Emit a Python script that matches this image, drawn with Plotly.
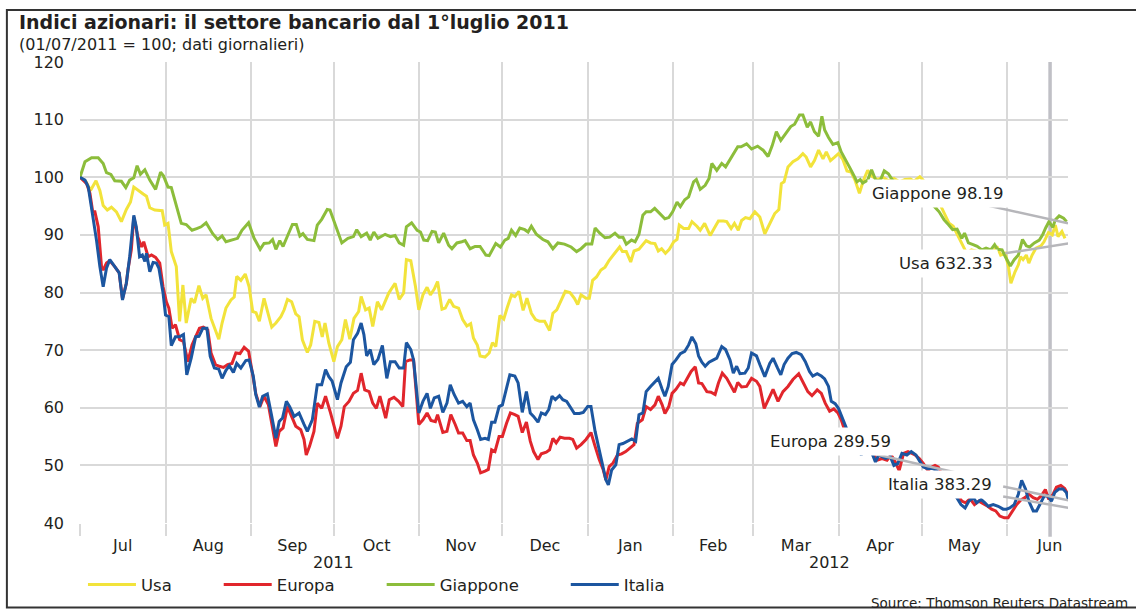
import pandas as pd
import plotly.graph_objects as go

START = pd.Timestamp("2011-07-01")
FONT = "DejaVu Sans"
TEXT = "#231f20"
GRID = "#d9d9d9"
PAD = "\u00a0" * 8  # keeps the wide spacing between legend entries

# (days since 01/07/2011, index level)
usa = [
    (0, 100), (2.2, 99.2), (3.8, 97.7), (5.8, 99.4), (7.2, 97.7), (8.4, 95.1), (9.9, 94.3), (11.4, 94.8),
    (13.2, 94), (15, 92.3), (16.8, 94.4), (18.3, 95.7), (19.5, 98.3), (21, 97.7), (22.9, 97.1), (24.1, 96.7),
    (25.3, 94.7), (27.1, 94.3), (28.6, 94.2), (29.8, 94.2), (30.7, 91.7), (31.9, 92), (33.1, 87.1), (34.3, 85.6),
    (34.9, 84.5), (36.1, 75), (37.3, 81.3), (38.5, 74.7), (40.3, 79), (41.5, 78.2), (43.1, 81.2), (44.5, 79),
    (45.7, 79.6), (47.5, 75.5), (48.7, 73.8), (50.3, 71.9), (51.5, 74.7), (52.9, 77.3), (54.7, 78.7), (55.9, 79.2),
    (56.8, 82.8), (58.3, 82.1), (59.9, 83.2), (61.3, 81), (62.6, 76.7), (63.8, 76.5), (65, 75), (66.7, 79),
    (68.3, 76.1), (69.5, 74), (71, 74.7), (72.8, 75.8), (74, 77), (75.2, 78.8), (76.7, 78.4), (78.2, 76.3),
    (79.4, 75.8), (80.6, 71.8), (82.4, 69.6), (83.6, 70.9), (85.1, 75), (86.6, 74.8), (87.8, 72.3), (88.8, 74.7),
    (90.2, 71.2), (92, 68), (93.3, 70.6), (94.9, 71.8), (96.2, 75.3), (97.8, 71.9), (99.3, 75.5), (101, 76.7),
    (101.9, 79.3), (103.5, 77), (104.8, 77.3), (106.1, 74.1), (107.8, 78.4), (109.3, 77), (111.9, 79.9),
    (114.2, 81.6), (115.7, 78.8), (117.3, 79.9), (118.3, 85.7), (119.9, 85.5), (121.6, 81), (122.8, 77),
    (124.3, 79.6), (125.8, 80.9), (127, 79.6), (128.4, 80.6), (129.6, 81.9), (131.2, 77.1), (132.4, 77.3),
    (134, 78.8), (135.4, 77.6), (137.2, 77.3), (138.7, 75.3), (140.2, 74.2), (141.6, 74.6), (142.6, 72.1),
    (144, 70.9), (145, 69), (146.8, 68.8), (148.3, 69.5), (149.5, 71.3), (150.7, 70.6), (152.2, 76), (153.6, 75.4),
    (154.8, 77.3), (156.4, 79.6), (157.6, 79.3), (159.1, 80.2), (160.6, 76.9), (162, 79), (163.6, 76.4),
    (165.1, 75.3), (166.6, 75), (168.4, 75), (170.2, 73.4), (171.4, 76.4), (172.8, 77), (174.4, 78.8),
    (175.9, 80.2), (177.6, 80), (179.2, 79), (180.4, 77.9), (181.6, 79.6), (183.4, 79), (184.6, 79),
    (185.8, 82.1), (187.2, 82.7), (188.8, 83.9), (190.3, 84.4), (191.8, 85.6), (193.2, 86.5), (194.4, 87.3),
    (195.6, 87.9), (196.6, 87.1), (198, 87.1), (199.6, 85.3), (200.8, 87.2), (202.6, 87.5), (203.8, 88.2),
    (205.2, 89), (206.8, 88.6), (208.4, 88.5), (209.6, 87.2), (210.8, 87.6), (212.2, 86.8), (213.6, 87.5),
    (215.2, 88.8), (216.4, 89.2), (217.2, 91.7), (218.8, 91.1), (220.6, 91.1), (221.8, 92.3), (223.6, 91.5),
    (224.8, 90.8), (226.4, 92), (228.4, 89.9), (230.2, 91.4), (231.4, 92.4), (233.2, 92.4), (234.4, 92.3),
    (236, 91.1), (237.2, 92), (238.6, 90.8), (239.8, 92.5), (241.2, 93), (242.8, 92.8), (244.6, 94),
    (246.4, 93.1), (248.2, 90.2), (250, 92), (251.8, 93.7), (253.3, 94.4), (254.2, 98.9), (255.2, 99.2),
    (256.6, 101.8), (258.4, 102.7), (260.2, 103.2), (262, 104.1), (263.2, 103.5), (264.8, 101.8), (266.2, 102.9),
    (267.7, 104.7), (269.3, 103.2), (270.5, 104.4), (272, 102.9), (273.5, 103.5), (274.9, 104.1), (276.5, 103.1),
    (278, 101.1), (279.5, 100.9), (280.9, 99.5), (282.5, 97.2), (284, 99.5), (285.5, 101.2), (287, 100.2),
    (289, 99.6), (291, 100), (293, 99.4), (295, 99.8), (297, 99.2), (299, 99.6), (301, 99.7), (302.3, 99.3),
    (304.4, 100.1), (305.6, 99.5), (308, 97), (310.3, 94.9), (311.8, 95.2), (313.5, 93.5), (315, 92),
    (316.5, 91.5), (318, 90), (320.2, 88), (321.4, 86.8), (323.1, 87.4), (325.5, 87.1), (327.2, 86.5),
    (329, 87.4), (330.7, 86.8), (332.3, 88), (333.7, 86.5), (335.4, 86.8), (336.6, 84.2), (337.4, 81.6),
    (338.9, 83.6), (340.1, 84.8), (340.9, 86.2), (341.8, 85.7), (343, 86.5), (343.9, 85.1), (345.1, 86.5),
    (346.5, 87.7), (348.3, 88.1), (349.4, 88.8), (351, 90.4), (352.4, 90), (353.5, 91.7), (354.5, 89.7),
    (355.9, 90.6), (357, 89.4),
]

europa = [
    (0, 100), (2.4, 98.9), (3.6, 97.2), (4.6, 94), (5.4, 94), (6.6, 91.4), (7.8, 84.5), (8.4, 83.9), (9.6, 85.1),
    (10.8, 85.5), (12.6, 84.5), (14.2, 83.4), (15.4, 78.9), (16.8, 81.6), (17.4, 84), (18.6, 87.4), (19.5, 93.1),
    (21, 89.6), (22.3, 87.9), (23.1, 88.8), (24.7, 86.2), (25.9, 86.5), (27.4, 86.1), (28.9, 85.1), (30.1, 81),
    (31.3, 78.4), (32.2, 77.3), (33.4, 73.8), (34.6, 74.4), (36.1, 71.8), (37.5, 71.5), (39.1, 68), (40.6, 70.9),
    (42.1, 72.5), (43.3, 73.8), (44.7, 74), (46.3, 73.5), (47.5, 69.5), (49.1, 67.5), (50.5, 67.2), (52, 67),
    (53.5, 67.5), (55.1, 67.7), (56.5, 69.5), (58, 69.4), (59.5, 70.5), (61.1, 69.8), (62.5, 66), (63.7, 62.5),
    (65.2, 60.2), (66.7, 62), (68.3, 60.5), (69.5, 57.3), (71, 53.3), (72.2, 55.9), (73.6, 56.5), (75.2, 60.2),
    (76.7, 58.5), (78.2, 56.8), (80, 56.2), (81.2, 54.5), (82, 51.8), (83.2, 53.3), (84.8, 55.9), (86, 60.8),
    (87.6, 59.9), (89, 62), (90.8, 59.1), (93.3, 54.7), (94.6, 56.8), (95.8, 60.2), (97.5, 61.1), (99.1, 62.5),
    (100.6, 63), (101.9, 66), (103.2, 63.1), (104.8, 62.8), (106.1, 60.8), (107.4, 59.9), (108.7, 62),
    (110.8, 58.2), (112.1, 61.4), (113.8, 61.8), (115.5, 61.1), (117, 60.2), (118, 68), (119.6, 68.3),
    (120.9, 68.3), (122.8, 57.1), (124.3, 57.9), (125.8, 59.1), (127.2, 57.8), (128.8, 57.6), (129.6, 58.8),
    (131.5, 55.7), (133, 55.9), (134.4, 58.8), (136, 57.1), (137.2, 55.6), (138.7, 55.6), (140.2, 54.3),
    (141.4, 54.3), (142.6, 51.8), (144, 50.4), (145.2, 48.7), (146.8, 49), (148, 49.3), (149.2, 52.7),
    (150.4, 52.4), (151.9, 55), (153.1, 55), (154.6, 57.3), (156, 59.1), (157.6, 58.8), (158.8, 58.5),
    (160.3, 55.7), (161.8, 57.5), (163.2, 54.2), (164.4, 52.4), (166, 51), (167.2, 52), (169, 52.3),
    (170.2, 52.7), (171.4, 54.7), (172.6, 53.9), (174, 54.9), (175.6, 54.7), (177.4, 54.7), (178.6, 54.5),
    (180, 53), (181.6, 53.6), (183.4, 54.5), (185.2, 55.7), (186.7, 53.3), (188.2, 51), (189.6, 49.3),
    (190.6, 47.5), (191.8, 49.8), (193.2, 50.4), (194.8, 51.8), (196.3, 52), (197.8, 52.4), (199.2, 53),
    (200.8, 53.6), (202, 57.3), (203.8, 57.9), (205.2, 60.2), (206.8, 59.7), (208.4, 60.5), (209.6, 62),
    (211, 60.5), (212, 59), (213.4, 60.2), (214.6, 62.5), (216, 63.2), (217.6, 64.3), (218.8, 64), (220.3, 65.4),
    (221.5, 66.3), (223, 67.1), (224.2, 64.3), (225.4, 64.2), (227.2, 62.8), (228.7, 62.7), (230.2, 62.3),
    (231.4, 64.3), (232.8, 66), (234.4, 65.1), (236, 63.7), (237.2, 62.7), (238.4, 64.4), (239.8, 63.6),
    (241.6, 63.7), (243.4, 65.1), (245.2, 64.6), (246.4, 63.7), (248, 59.9), (249.4, 61.4), (251.2, 63.2),
    (253, 61.1), (254.8, 62.8), (256.6, 63.7), (258.4, 64.9), (260.5, 65.9), (262, 64.6), (263.8, 62.8),
    (265.3, 62.1), (267.2, 63.1), (268.7, 62.5), (270.1, 60.8), (271.7, 59.4), (273.2, 59.8), (274.7, 59.1),
    (275.9, 57.9), (277.1, 56.2), (278.3, 55.6), (279.5, 55), (282, 54), (284.5, 53), (287, 52.4), (288.9, 50.9),
    (290.7, 51.2), (292.5, 50.9), (294, 51.8), (295.5, 50.6), (296.9, 49.1), (298.5, 52.1), (300.1, 52.4),
    (301.3, 52.1), (302.7, 51.8), (304.2, 51.2), (305.7, 50.3), (307.3, 49.1), (308.7, 49.7), (309.9, 50),
    (311.1, 49.7), (313, 48), (315, 45.8), (316.8, 45), (318.4, 44.7), (319.6, 43.8), (321, 43.5), (322.6, 44.2),
    (324.2, 43.2), (325.8, 43.8), (327.4, 43.4), (329, 42.9), (330.4, 42.4), (331.9, 42.1), (333.4, 41.2),
    (335, 40.9), (336.4, 40.9), (337.9, 42.1), (339.5, 43.2), (341, 44), (342.5, 44.4), (343.9, 45),
    (345.5, 44.4), (347, 44.1), (348.4, 44.7), (349.9, 45.8), (351.1, 44.1), (352.7, 45), (353.9, 46.2),
    (355.5, 46.5), (356.9, 46), (358, 45),
]

giappone = [
    (0, 100), (1.8, 102.7), (4.2, 103.4), (6.6, 103.4), (8.4, 102.4), (9.6, 100.8), (11.2, 100.5), (12.6, 99.4),
    (15, 99.3), (16.6, 98.2), (18, 99.5), (19.5, 99.9), (20.7, 102), (21.9, 100.5), (23.5, 101.3), (25.3, 99.5),
    (27.4, 97.9), (29.2, 100.9), (30.3, 100.2), (31.9, 98.3), (33.1, 98.2), (34.9, 95.1), (36.7, 92), (38.5, 91.8),
    (40.6, 90.8), (42.3, 91.1), (43.9, 91.4), (45.7, 92.1), (48.1, 90.2), (49.9, 89.2), (51.5, 89.8), (52.9, 88.8),
    (55.3, 89.2), (57.1, 89.4), (58.7, 90.8), (61.1, 92.1), (63.1, 89.4), (65.3, 87.5), (66.7, 88.5), (68.6, 88.6),
    (69.8, 89.2), (71, 87.5), (72.4, 89), (73.6, 88), (75.2, 89.8), (77, 91.8), (78.4, 91.8), (79.7, 89.8),
    (80.8, 90.2), (82.4, 89.2), (84.8, 89), (86, 91.7), (87.6, 92.7), (89.6, 94.4), (90.6, 94.3), (92.6, 91.7),
    (94.9, 88.6), (97.1, 89.4), (99.1, 89.7), (100.3, 90.9), (101.9, 89.7), (103.9, 90.3), (105.2, 89.1),
    (106.5, 90.5), (108, 89.4), (110.6, 90.1), (112.5, 89.7), (114.2, 89.9), (115.7, 88.6), (117.3, 88.2),
    (118.3, 91.4), (120.2, 92.1), (122.2, 90.8), (123.4, 90.5), (124.6, 89.1), (126, 89), (127.6, 90.6),
    (128.8, 90.5), (130, 88.6), (131.8, 90.3), (133.6, 88.2), (134.8, 87.6), (136.6, 88.6), (138.4, 88.8),
    (139.6, 89), (141.4, 87.6), (143.2, 88), (145, 88), (147.1, 86.5), (148.3, 86.4), (150.7, 88.5), (152.4, 87.9),
    (154, 89.1), (155.2, 89.4), (156.4, 90.8), (157.9, 89.9), (159.4, 91.2), (161.2, 90.9), (162.4, 90.5),
    (163.6, 91.5), (165.4, 90.1), (167.8, 89.2), (169.6, 88.8), (171.4, 87.6), (173.2, 88.6), (175.6, 88.4),
    (178, 87.9), (180, 87.1), (181.6, 87.6), (183.4, 88.4), (185.5, 88.4), (186.7, 91.2), (188.4, 90.3),
    (190.3, 89.5), (192, 89.6), (193.9, 90.3), (195.4, 89.6), (196.8, 89.6), (198, 88.4), (199.9, 89.1),
    (201.2, 88.8), (202.6, 90.1), (204, 93.4), (205.2, 94), (206.8, 94), (208.3, 94.6), (210, 93.7), (212, 92.8),
    (213.4, 93), (214.8, 94), (216.4, 95.7), (217.6, 94.9), (219.2, 96.1), (220.6, 96.6), (222.4, 99.2),
    (223.4, 99.6), (224.8, 97.9), (226.6, 98.6), (228, 99.8), (229, 102.4), (230.8, 101.2), (232.6, 102.4),
    (234, 101.8), (236.2, 103.6), (238.4, 105.3), (239.6, 105.3), (241.6, 105.8), (243.4, 104.9), (245.6, 105.4),
    (247.6, 104.7), (249.4, 103.6), (250.9, 105.5), (252.4, 107.9), (254, 106.4), (256, 107.7), (257.6, 108.8),
    (259, 109.2), (260.8, 110.8), (262, 110.8), (263.6, 108.7), (264.8, 109.6), (266.2, 107.9), (267.7, 107.1),
    (268.9, 110.6), (269.9, 108.2), (271.3, 106.9), (272.9, 105.7), (274.7, 106), (275.9, 104.4), (277.7, 102.9),
    (279.2, 101.5), (280.7, 100.1), (281.6, 99.2), (282.8, 99.6), (283.7, 99), (285.5, 99.5), (286.9, 101.3),
    (288.5, 99.4), (290.1, 99.5), (291.5, 101.1), (293, 100.6), (294.5, 99.5), (296.1, 98.8), (300, 98.3),
    (304, 97), (307, 95.8), (309.7, 94.9), (311.4, 94), (313.2, 92.6), (314.9, 91.7), (316.3, 90.9), (317.9, 91),
    (319.6, 89.4), (320.6, 90.3), (322, 88.6), (323.7, 88.3), (325.2, 88), (326.9, 87.4), (328.4, 87.7),
    (330.1, 87.4), (331.5, 88.3), (332.5, 87.5), (334.2, 87.4), (335.4, 86.2), (337.2, 84.6), (338.6, 85.7),
    (340.1, 86.5), (341.6, 89.2), (343, 88.1), (344.2, 87.9), (345.9, 88.6), (347.7, 89.1), (348.9, 90),
    (350, 91.2), (351.2, 92.3), (352.6, 91.3), (353.5, 92.6), (354.9, 93.3), (356.5, 92.9), (357.6, 92.3),
]

italia = [
    (0, 100), (1.8, 99.5), (3, 98.3), (3.8, 96), (4.8, 92.5), (6, 89), (7.2, 84.5), (8.4, 81), (9.6, 84.2),
    (10.8, 85.7), (12.6, 84.5), (14.2, 83.4), (15.4, 78.7), (16.8, 81.6), (18, 86.2), (19.5, 93.4), (20.4, 91.4),
    (21.6, 86.2), (22.6, 86.5), (23.5, 85.4), (24.1, 86.8), (25.3, 83.6), (26.5, 85.2), (27.7, 85.1), (28.6, 84.2),
    (30.1, 79.9), (31, 76.1), (32.2, 75.8), (33.1, 70.8), (34.6, 72.3), (36.1, 72.3), (37.5, 72.7), (38.7, 65.7),
    (40.3, 68.6), (41.9, 72.3), (43.1, 72.4), (44.5, 73.8), (46, 73.8), (47.2, 68.9), (48.7, 66.9), (50.3, 66.7),
    (51.5, 65.1), (52.9, 66.5), (54.1, 67.3), (55.6, 66.1), (56.8, 67.7), (58.3, 66.9), (60.1, 68.2), (61.3, 68.3),
    (62.8, 65.5), (63.7, 62.3), (65, 60.1), (66.2, 62), (67.9, 62.4), (69.5, 58.5), (71, 54.7), (72.2, 57.6),
    (73.4, 58.2), (74.8, 61.1), (76, 60.2), (77.6, 58.5), (79.4, 59.1), (81.2, 57.1), (82.4, 55.9), (84.2, 57.9),
    (86, 64), (87.6, 64), (89, 66.6), (90.2, 65.4), (91.4, 64.6), (93.3, 61.4), (94.6, 64.3), (96.5, 67.1),
    (98, 67.9), (99.1, 71.8), (100.6, 72.9), (101.9, 74.7), (102.9, 72.7), (103.9, 69), (105.2, 70.1),
    (106.5, 67.5), (108, 68.4), (109.6, 70.8), (111.2, 65.1), (112.5, 68), (114.2, 68), (115.7, 66.9),
    (117.3, 66.9), (118.3, 71.3), (119.9, 70.1), (120.9, 68.3), (122.8, 59.1), (124.3, 61.1), (125.8, 62.5),
    (127, 59.9), (128.4, 61.7), (130, 62), (131.5, 59.2), (133, 60.8), (134.2, 64), (135.6, 62.3), (137.2, 60.8),
    (138.7, 61.1), (140.2, 60.2), (141.4, 60.8), (142.6, 57.9), (144, 56.2), (145.2, 54.5), (146.8, 54.7),
    (148, 54.5), (149.2, 57.5), (150.4, 57.5), (151.9, 60.2), (153.1, 60.5), (154.6, 63.4), (155.8, 65.7),
    (157.6, 65.5), (158.8, 64.3), (160.3, 59.2), (161.8, 62.8), (163.2, 59.1), (164.4, 58.5), (166, 57.5),
    (167.2, 59.1), (168.7, 58.8), (169.9, 59.7), (171.1, 62), (172.3, 61.4), (173.8, 62.1), (175, 61.4),
    (176.4, 61.1), (178, 59.8), (179.2, 59), (181, 59), (182.4, 59.2), (184, 60.2), (185.2, 60.2), (186.7, 55.9),
    (188.2, 52.7), (189.4, 49.8), (190.6, 47.5), (191.5, 46.6), (192.7, 49.2), (194.2, 50.1), (195.4, 53.6),
    (196.8, 53.8), (198.4, 54.2), (200, 54.6), (201.4, 54.2), (202.6, 58.8), (204, 59.1), (205.2, 62.8),
    (206.8, 63.7), (208.4, 64.6), (209.6, 65.1), (211, 63.2), (212, 62), (213.2, 63.7), (214.6, 67.5), (216, 68.3),
    (217.6, 69.4), (219.2, 69.8), (220.6, 70.9), (221.8, 72.3), (223.2, 71.1), (224.2, 69), (225.4, 67.9),
    (226.6, 67.2), (228, 67.9), (229.6, 68.3), (230.8, 68.6), (232.6, 70.6), (234, 70.1), (235.6, 68.3),
    (236.8, 66), (238, 67.2), (239.2, 65.9), (241, 66), (242.2, 66.9), (243.4, 69.5), (245.2, 69), (246.4, 67.5),
    (248.2, 65.4), (250, 67.7), (251.2, 68.6), (252.8, 66.9), (254, 65.7), (255.2, 67.5), (256.6, 68.6),
    (258.1, 69.4), (259.6, 69.6), (261.4, 69.2), (262.9, 68), (264.4, 66.3), (265.6, 65.5), (267.2, 65.9),
    (268.7, 65.5), (269.9, 65), (271.3, 63.7), (272.3, 61.1), (273.7, 60.7), (274.9, 59.9), (276.1, 58.5),
    (277.3, 56.8), (278.5, 55.6), (281, 54), (283.2, 51.8), (284.6, 53.5), (286.4, 52.9), (288.3, 50.6),
    (289.5, 51.8), (291.9, 51.2), (293.7, 51.5), (295, 50), (296.4, 50.3), (297.9, 52.1), (299.7, 51.8),
    (301.3, 52.4), (303, 51.8), (304.5, 50.6), (305.7, 49.7), (307.3, 49.4), (308.7, 49.5), (310.5, 49.1),
    (313, 47.5), (315, 45.8), (317.8, 44.4), (319.3, 43.2), (320.8, 42.6), (322.2, 43.8), (323.8, 44.4),
    (325, 43.5), (326.6, 44.1), (328, 43.5), (329.2, 42.9), (331, 43.2), (332.8, 42.9), (334.6, 42.4),
    (335.8, 42.4), (337, 42.6), (338.6, 43.2), (340.1, 45), (341.3, 47.4), (342.7, 45.9), (343.9, 43.8),
    (345.5, 42.1), (346.7, 42.1), (347.9, 43.2), (349.5, 44.7), (350.9, 44.7), (352.1, 43.8), (353.3, 45.3),
    (354.8, 45.9), (356.3, 45.9), (357.5, 45.3), (358.2, 44.1),
]

SERIES = [
    ("Usa", usa, "#f2e33b"),
    ("Europa", europa, "#e1262c"),
    ("Giappone", giappone, "#8cbd3b"),
    ("Italia", italia, "#1c56a0"),
]

# last-value labels: text, day, level
LABELS = [
    ("Giappone 98.19", 310.9, 97.1),
    ("Usa 632.33", 313.8, 85.0),
    ("Europa 289.59", 271.9, 54.2),
    ("Italia 383.29", 311.8, 46.6),
]
LEADERS = [
    (328.2, 95.2, 358.1, 92.0),
    (335.4, 86.8, 358.2, 88.5),
    (286.7, 52.1, 319.8, 48.5),
    (334.6, 46.35, 358.7, 43.9),
    (334.6, 44.6, 358.7, 42.6),
]
END_DAY = 358.1
MARKER_DAY = 351.6


def at(day):
    return START + pd.Timedelta(days=day)


fig = go.Figure()
for name, points, color in SERIES:
    fig.add_trace(go.Scatter(
        x=[at(d) for d, _ in points],
        y=[v for _, v in points],
        mode="lines",
        name=name + PAD,
        line=dict(color=color, width=3),
    ))

fig.add_shape(type="line", xref="x", yref="paper", x0=at(MARKER_DAY), x1=at(MARKER_DAY), y0=-0.03, y1=1,
              line=dict(color="#c0c0c6", width=3.5), layer="below")

for x0, y0, x1, y1 in LEADERS:
    fig.add_shape(type="line", x0=at(x0), y0=y0, x1=at(x1), y1=y1,
                  line=dict(color="#b6b6ba", width=2.5), layer="above")

for text, day, level in LABELS:
    fig.add_annotation(x=at(day), y=level, text=text, showarrow=False, bgcolor="white",
                       borderpad=4, font=dict(family=FONT, size=16.5, color=TEXT))

fig.add_annotation(xref="paper", yref="paper", x=-0.064, y=1.086, xanchor="left", yanchor="middle",
                   text="<b>Indici azionari: il settore bancario dal 1°luglio 2011</b>", showarrow=False,
                   font=dict(family=FONT, size=19, color=TEXT))
fig.add_annotation(xref="paper", yref="paper", x=-0.064, y=1.037, xanchor="left", yanchor="middle",
                   text="(01/07/2011 = 100; dati giornalieri)", showarrow=False,
                   font=dict(family=FONT, size=16, color=TEXT))
for year, day in [("2011", 92), ("2012", 271.5)]:
    fig.add_annotation(xref="x", yref="paper", x=at(day), y=-0.086, yanchor="middle", text=year,
                       showarrow=False, font=dict(family=FONT, size=16, color=TEXT))
fig.add_annotation(xref="paper", yref="paper", x=1.063, y=-0.173, xanchor="right", yanchor="middle",
                   text="Source: Thomson Reuters Datastream", showarrow=False,
                   font=dict(family=FONT, size=13.5, color=TEXT))

# outer frame of the panel
fig.add_shape(type="rect", xref="paper", yref="paper", x0=-0.074, x1=1.09, y0=-0.1835, y1=1.113,
              line=dict(color="#333333", width=2), layer="below")

fig.update_layout(
    width=1136,
    height=611,
    margin=dict(l=80, r=68, t=62, b=88, autoexpand=False),
    paper_bgcolor="white",
    plot_bgcolor="white",
    font=dict(family=FONT, color=TEXT),
    showlegend=True,
    legend=dict(orientation="h", x=0.003, xanchor="left", y=-0.134, yanchor="middle", itemwidth=48,
                font=dict(family=FONT, size=16.5, color=TEXT), bgcolor="rgba(0,0,0,0)"),
)
fig.update_xaxes(
    type="date",
    range=[at(0), at(END_DAY)],
    tick0="2011-07-01",
    dtick="M1",
    tickformat="%b",
    ticklabelmode="period",
    ticklabelstandoff=-4,
    showgrid=True,
    gridcolor=GRID,
    gridwidth=1.7,
    ticks="outside",
    ticklen=12,
    tickwidth=1.7,
    tickcolor=GRID,
    tickfont=dict(family=FONT, size=16, color=TEXT),
    zeroline=False,
)
fig.update_yaxes(
    range=[40, 120],
    dtick=10,
    showgrid=True,
    gridcolor=GRID,
    gridwidth=1.7,
    zeroline=False,
    ticks="",
    ticklabelstandoff=15,
    tickfont=dict(family=FONT, size=16, color=TEXT),
)

# the page body has a default 8px margin; drop it so the figure fills the window
fig.write_html("out.html", config={"displayModeBar": False},
               post_script="document.body.style.margin = '0';")
